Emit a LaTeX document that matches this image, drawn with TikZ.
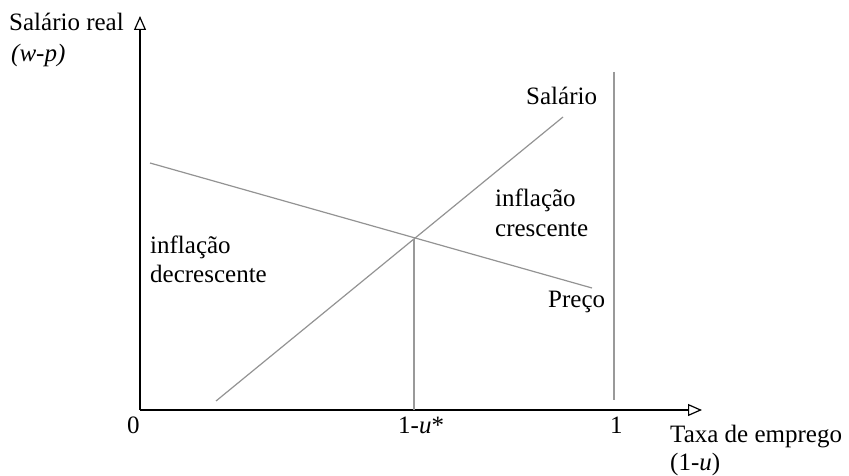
\documentclass[tikz,border=0pt]{standalone}
\usepackage{fontspec}
\setmainfont{Liberation Serif}
\usetikzlibrary{arrows.meta}
\begin{document}
\begin{tikzpicture}[x=1pt,y=-1pt,
  lbl/.style={inner sep=0pt,anchor=base west,font=\fontsize{25}{29}\selectfont},
  axisline/.style={line width=1.5pt,black,-{Triangle[open,length=14pt,width=12pt,line width=1.2pt]}},
  curve/.style={line width=1.2pt,gray!85},
  guide/.style={line width=1.6pt,gray!80}]
\useasboundingbox (0,0) rectangle (849,476);
\coordinate (O) at (140,410);
\coordinate (ytip) at (140,16);
\coordinate (xtip) at (702,410);
\draw[axisline] (O) -- (ytip);
\draw[axisline] (O) -- (xtip);
% curves
\coordinate (s1) at (216,401);
\coordinate (s2) at (563,117);
\coordinate (p1) at (150,163);
\coordinate (p2) at (592,288);
\coordinate (E) at (414,239);
\coordinate (Eb) at (414,410);
\coordinate (v1) at (614,72);
\coordinate (v2) at (614,400);
\draw[curve] (s1) -- (s2);
\draw[curve] (p1) -- (p2);
\draw[guide] (E) -- (Eb);
\draw[guide] (v1) -- (v2);
% labels
\node[lbl] (ylab) at (9,31) {Salário real};
\node[lbl] (ylab2) at (11,62) {\itshape(w-p)};
\node[lbl] (xlab) at (670,442) {Taxa de emprego};
\node[lbl] (xlab2) at (670,470) {(1-\textit{u})};
\node[lbl] (zero) at (127,433) {0};
\node[lbl] (ustar) at (398,433) {1-\textit{u}*};
\node[lbl] (one) at (610,433) {1};
\node[lbl] (sal) at (526,105) {Salário};
\node[lbl] (pre) at (548,307) {Preço};
\node[lbl] (ic1) at (495,207) {inflação};
\node[lbl] (ic2) at (495,236) {crescente};
\node[lbl] (id1) at (150,253) {inflação};
\node[lbl] (id2) at (150,282) {decrescente};
\end{tikzpicture}
\end{document}
